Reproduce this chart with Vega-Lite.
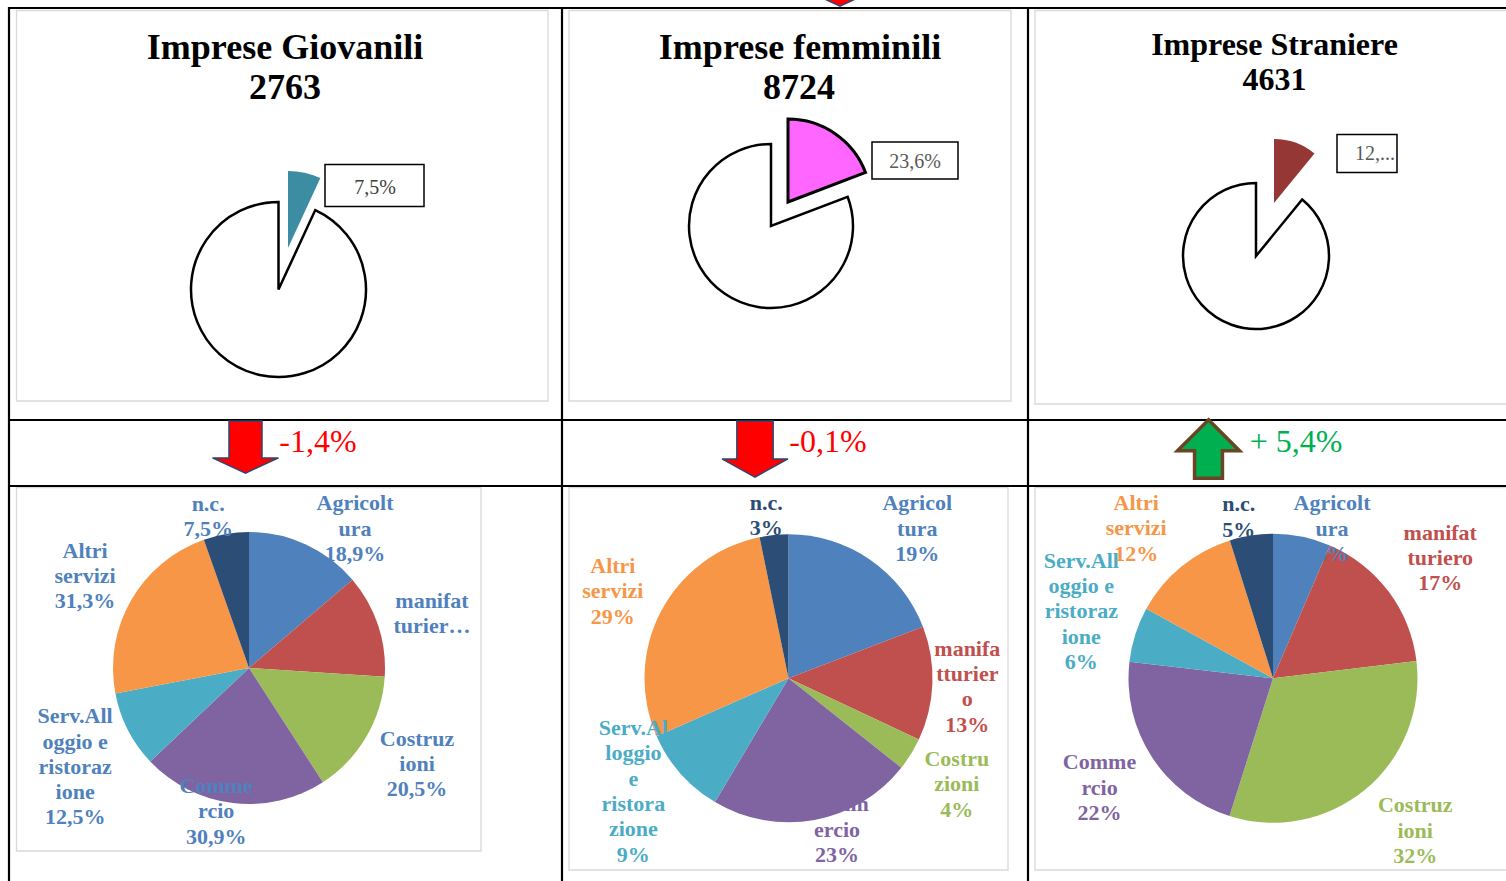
{
"$schema":"https://vega.github.io/schema/vega-lite/v6.json",
"width":1506,"height":881,"autosize":{"type":"none"},"padding":0,"background":"white",
"config":{"view":{"stroke":null}},
"datasets":{
"quote":[
{"gruppo":"Giovanili","titolo":"Imprese Giovanili","imprese":2763,"parte":"quota","ordine":1,"valore":6.9,"etichetta":"7,5%","variazione":"-1,4%"},
{"gruppo":"Giovanili","titolo":"Imprese Giovanili","imprese":2763,"parte":"resto","ordine":2,"valore":93.1,"etichetta":"","variazione":"-1,4%"},
{"gruppo":"Femminili","titolo":"Imprese femminili","imprese":8724,"parte":"quota","ordine":1,"valore":19.2,"etichetta":"23,6%","variazione":"-0,1%"},
{"gruppo":"Femminili","titolo":"Imprese femminili","imprese":8724,"parte":"resto","ordine":2,"valore":80.8,"etichetta":"","variazione":"-0,1%"},
{"gruppo":"Straniere","titolo":"Imprese Straniere","imprese":4631,"parte":"quota","ordine":1,"valore":10.9,"etichetta":"12,...","variazione":"+ 5,4%"},
{"gruppo":"Straniere","titolo":"Imprese Straniere","imprese":4631,"parte":"resto","ordine":2,"valore":89.1,"etichetta":"","variazione":"+ 5,4%"}
],
"settori":[
{"gruppo":"Giovanili","settore":"Agricoltura","ordine":1,"valore":13.75,"etichetta":"Agricolt\nura\n18,9%"},
{"gruppo":"Giovanili","settore":"Manifatturiero","ordine":2,"valore":12.28,"etichetta":"manifat\nturier…"},
{"gruppo":"Giovanili","settore":"Costruzioni","ordine":3,"valore":14.83,"etichetta":"Costruz\nioni\n20,5%"},
{"gruppo":"Giovanili","settore":"Commercio","ordine":4,"valore":22.08,"etichetta":"Comme\nrcio\n30,9%"},
{"gruppo":"Giovanili","settore":"Alloggio e ristorazione","ordine":5,"valore":9.06,"etichetta":"Serv.All\noggio e\nristoraz\nione\n12,5%"},
{"gruppo":"Giovanili","settore":"Altri servizi","ordine":6,"valore":22.61,"etichetta":"Altri\nservizi\n31,3%"},
{"gruppo":"Giovanili","settore":"n.c.","ordine":7,"valore":5.39,"etichetta":"n.c.\n7,5%"},
{"gruppo":"Femminili","settore":"Agricoltura","ordine":1,"valore":19.17,"etichetta":"Agricol\ntura\n19%"},
{"gruppo":"Femminili","settore":"Manifatturiero","ordine":2,"valore":12.81,"etichetta":"manifa\ntturier\no\n13%"},
{"gruppo":"Femminili","settore":"Costruzioni","ordine":3,"valore":3.69,"etichetta":"Costru\nzioni\n4%"},
{"gruppo":"Femminili","settore":"Commercio","ordine":4,"valore":22.86,"etichetta":"Comm\nercio\n23%"},
{"gruppo":"Femminili","settore":"Alloggio e ristorazione","ordine":5,"valore":9.89,"etichetta":"Serv.Al\nloggio\ne\nristora\nzione\n9%"},
{"gruppo":"Femminili","settore":"Altri servizi","ordine":6,"valore":28.36,"etichetta":"Altri\nservizi\n29%"},
{"gruppo":"Femminili","settore":"n.c.","ordine":7,"valore":3.22,"etichetta":"n.c.\n3%"},
{"gruppo":"Straniere","settore":"Agricoltura","ordine":1,"valore":6.44,"etichetta":"Agricolt\nura\n6%"},
{"gruppo":"Straniere","settore":"Manifatturiero","ordine":2,"valore":16.64,"etichetta":"manifat\nturiero\n17%"},
{"gruppo":"Straniere","settore":"Costruzioni","ordine":3,"valore":31.78,"etichetta":"Costruz\nioni\n32%"},
{"gruppo":"Straniere","settore":"Commercio","ordine":4,"valore":21.97,"etichetta":"Comme\nrcio\n22%"},
{"gruppo":"Straniere","settore":"Alloggio e ristorazione","ordine":5,"valore":6.14,"etichetta":"Serv.All\noggio e\nristoraz\nione\n6%"},
{"gruppo":"Straniere","settore":"Altri servizi","ordine":6,"valore":12.19,"etichetta":"Altri\nservizi\n12%"},
{"gruppo":"Straniere","settore":"n.c.","ordine":7,"valore":4.83,"etichetta":"n.c.\n5%"}
]
},
"layer":[
{"data":{"values":[{}]},"mark":{"type":"rect","fill":"white","stroke":"#D9D9D9","strokeWidth":1.3},"encoding":{"x":{"datum":16.5,"type":"quantitative","scale":{"domain":[0,1506],"nice":false,"zero":false},"axis":null},"x2":{"datum":548},"y":{"datum":10.5,"type":"quantitative","scale":{"domain":[0,881],"nice":false,"zero":false,"reverse":true},"axis":null},"y2":{"datum":401}}},
{"data":{"values":[{}]},"mark":{"type":"rect","fill":"white","stroke":"#D9D9D9","strokeWidth":1.3},"encoding":{"x":{"datum":569,"type":"quantitative","scale":{"domain":[0,1506],"nice":false,"zero":false},"axis":null},"x2":{"datum":1011},"y":{"datum":10.5,"type":"quantitative","scale":{"domain":[0,881],"nice":false,"zero":false,"reverse":true},"axis":null},"y2":{"datum":401}}},
{"data":{"values":[{}]},"mark":{"type":"rect","fill":"white","stroke":"#D9D9D9","strokeWidth":1.3},"encoding":{"x":{"datum":1035,"type":"quantitative","scale":{"domain":[0,1506],"nice":false,"zero":false},"axis":null},"x2":{"datum":1520},"y":{"datum":10.5,"type":"quantitative","scale":{"domain":[0,881],"nice":false,"zero":false,"reverse":true},"axis":null},"y2":{"datum":404}}},
{"data":{"values":[{}]},"mark":{"type":"rect","fill":"white","stroke":"#D9D9D9","strokeWidth":1.3},"encoding":{"x":{"datum":16.5,"type":"quantitative","scale":{"domain":[0,1506],"nice":false,"zero":false},"axis":null},"x2":{"datum":481},"y":{"datum":487.5,"type":"quantitative","scale":{"domain":[0,881],"nice":false,"zero":false,"reverse":true},"axis":null},"y2":{"datum":851}}},
{"data":{"values":[{}]},"mark":{"type":"rect","fill":"white","stroke":"#D9D9D9","strokeWidth":1.3},"encoding":{"x":{"datum":569,"type":"quantitative","scale":{"domain":[0,1506],"nice":false,"zero":false},"axis":null},"x2":{"datum":1008},"y":{"datum":487.5,"type":"quantitative","scale":{"domain":[0,881],"nice":false,"zero":false,"reverse":true},"axis":null},"y2":{"datum":870}}},
{"data":{"values":[{}]},"mark":{"type":"rect","fill":"white","stroke":"#D9D9D9","strokeWidth":1.3},"encoding":{"x":{"datum":1035,"type":"quantitative","scale":{"domain":[0,1506],"nice":false,"zero":false},"axis":null},"x2":{"datum":1520},"y":{"datum":487.5,"type":"quantitative","scale":{"domain":[0,881],"nice":false,"zero":false,"reverse":true},"axis":null},"y2":{"datum":870}}},

{"data":{"values":[{}]},"mark":{"type":"rule","stroke":"black","strokeWidth":2.2},"encoding":{"x":{"datum":8,"type":"quantitative","scale":{"domain":[0,1506],"nice":false,"zero":false},"axis":null},"x2":{"datum":1506},"y":{"datum":8,"type":"quantitative","scale":{"domain":[0,881],"nice":false,"zero":false,"reverse":true},"axis":null}}},
{"data":{"values":[{}]},"mark":{"type":"rule","stroke":"black","strokeWidth":2.2},"encoding":{"x":{"datum":8,"type":"quantitative","scale":{"domain":[0,1506],"nice":false,"zero":false},"axis":null},"x2":{"datum":1506},"y":{"datum":420,"type":"quantitative","scale":{"domain":[0,881],"nice":false,"zero":false,"reverse":true},"axis":null}}},
{"data":{"values":[{}]},"mark":{"type":"rule","stroke":"black","strokeWidth":2.2},"encoding":{"x":{"datum":8,"type":"quantitative","scale":{"domain":[0,1506],"nice":false,"zero":false},"axis":null},"x2":{"datum":1506},"y":{"datum":486,"type":"quantitative","scale":{"domain":[0,881],"nice":false,"zero":false,"reverse":true},"axis":null}}},
{"data":{"values":[{}]},"mark":{"type":"rule","stroke":"black","strokeWidth":2.2},"encoding":{"x":{"datum":9,"type":"quantitative","scale":{"domain":[0,1506],"nice":false,"zero":false},"axis":null},"y":{"datum":7,"type":"quantitative","scale":{"domain":[0,881],"nice":false,"zero":false,"reverse":true},"axis":null},"y2":{"datum":881}}},
{"data":{"values":[{}]},"mark":{"type":"rule","stroke":"black","strokeWidth":2.2},"encoding":{"x":{"datum":562,"type":"quantitative","scale":{"domain":[0,1506],"nice":false,"zero":false},"axis":null},"y":{"datum":7,"type":"quantitative","scale":{"domain":[0,881],"nice":false,"zero":false,"reverse":true},"axis":null},"y2":{"datum":881}}},
{"data":{"values":[{}]},"mark":{"type":"rule","stroke":"black","strokeWidth":2.2},"encoding":{"x":{"datum":1028,"type":"quantitative","scale":{"domain":[0,1506],"nice":false,"zero":false},"axis":null},"y":{"datum":7,"type":"quantitative","scale":{"domain":[0,881],"nice":false,"zero":false,"reverse":true},"axis":null},"y2":{"datum":881}}},

{"data":{"values":[{}]},"mark":{"type":"point","shape":"M-0.5,-0.79L0.5,-0.79L0.5,0.33L1,0.33L0,0.79L-1,0.33L-0.5,0.33Z","size":4356,"filled":true,"fill":"#FF0000","stroke":"#2E4670","strokeWidth":1.5,"opacity":1},"encoding":{"x":{"datum":840,"type":"quantitative","scale":{"domain":[0,1506],"nice":false,"zero":false},"axis":null},"y":{"datum":-20,"type":"quantitative","scale":{"domain":[0,881],"nice":false,"zero":false,"reverse":true},"axis":null}}},

{"data":{"name":"quote"},"transform":[{"filter":"datum.gruppo === 'Giovanili'"}],"mark":{"type":"arc","radius":87.5,"fill":"white","stroke":"black","strokeWidth":2.5},"encoding":{"x":{"datum":278.5,"type":"quantitative","scale":{"domain":[0,1506],"nice":false,"zero":false},"axis":null},"y":{"datum":289.5,"type":"quantitative","scale":{"domain":[0,881],"nice":false,"zero":false,"reverse":true},"axis":null},"theta":{"field":"valore","type":"quantitative","stack":"normalize"},"order":{"field":"ordine","type":"quantitative"},"detail":{"field":"parte","type":"nominal"},"opacity":{"condition":{"test":"datum.parte === 'resto'","value":1},"value":0}}},
{"data":{"name":"quote"},"transform":[{"filter":"datum.gruppo === 'Giovanili'"}],"mark":{"type":"arc","radius":77,"fill":"#3C8CA2","strokeWidth":0},"encoding":{"x":{"datum":288,"type":"quantitative","scale":{"domain":[0,1506],"nice":false,"zero":false},"axis":null},"y":{"datum":248,"type":"quantitative","scale":{"domain":[0,881],"nice":false,"zero":false,"reverse":true},"axis":null},"theta":{"field":"valore","type":"quantitative","stack":"normalize"},"order":{"field":"ordine","type":"quantitative"},"detail":{"field":"parte","type":"nominal"},"opacity":{"condition":{"test":"datum.parte === 'quota'","value":1},"value":0}}},
{"data":{"name":"quote"},"transform":[{"filter":"datum.gruppo === 'Femminili'"}],"mark":{"type":"arc","radius":82,"fill":"white","stroke":"black","strokeWidth":2.5},"encoding":{"x":{"datum":771,"type":"quantitative","scale":{"domain":[0,1506],"nice":false,"zero":false},"axis":null},"y":{"datum":226,"type":"quantitative","scale":{"domain":[0,881],"nice":false,"zero":false,"reverse":true},"axis":null},"theta":{"field":"valore","type":"quantitative","stack":"normalize"},"order":{"field":"ordine","type":"quantitative"},"detail":{"field":"parte","type":"nominal"},"opacity":{"condition":{"test":"datum.parte === 'resto'","value":1},"value":0}}},
{"data":{"name":"quote"},"transform":[{"filter":"datum.gruppo === 'Femminili'"}],"mark":{"type":"arc","radius":83,"fill":"#FF66FF","stroke":"black","strokeWidth":3},"encoding":{"x":{"datum":788,"type":"quantitative","scale":{"domain":[0,1506],"nice":false,"zero":false},"axis":null},"y":{"datum":202,"type":"quantitative","scale":{"domain":[0,881],"nice":false,"zero":false,"reverse":true},"axis":null},"theta":{"field":"valore","type":"quantitative","stack":"normalize"},"order":{"field":"ordine","type":"quantitative"},"detail":{"field":"parte","type":"nominal"},"opacity":{"condition":{"test":"datum.parte === 'quota'","value":1},"value":0}}},
{"data":{"name":"quote"},"transform":[{"filter":"datum.gruppo === 'Straniere'"}],"mark":{"type":"arc","radius":73,"fill":"white","stroke":"black","strokeWidth":2.5},"encoding":{"x":{"datum":1256,"type":"quantitative","scale":{"domain":[0,1506],"nice":false,"zero":false},"axis":null},"y":{"datum":256,"type":"quantitative","scale":{"domain":[0,881],"nice":false,"zero":false,"reverse":true},"axis":null},"theta":{"field":"valore","type":"quantitative","stack":"normalize"},"order":{"field":"ordine","type":"quantitative"},"detail":{"field":"parte","type":"nominal"},"opacity":{"condition":{"test":"datum.parte === 'resto'","value":1},"value":0}}},
{"data":{"name":"quote"},"transform":[{"filter":"datum.gruppo === 'Straniere'"}],"mark":{"type":"arc","radius":64,"fill":"#953735","strokeWidth":0},"encoding":{"x":{"datum":1274,"type":"quantitative","scale":{"domain":[0,1506],"nice":false,"zero":false},"axis":null},"y":{"datum":203,"type":"quantitative","scale":{"domain":[0,881],"nice":false,"zero":false,"reverse":true},"axis":null},"theta":{"field":"valore","type":"quantitative","stack":"normalize"},"order":{"field":"ordine","type":"quantitative"},"detail":{"field":"parte","type":"nominal"},"opacity":{"condition":{"test":"datum.parte === 'quota'","value":1},"value":0}}},

{"data":{"values":[{}]},"mark":{"type":"rect","fill":"white","stroke":"black","strokeWidth":1.5},"encoding":{"x":{"datum":325,"type":"quantitative","scale":{"domain":[0,1506],"nice":false,"zero":false},"axis":null},"x2":{"datum":424},"y":{"datum":164.5,"type":"quantitative","scale":{"domain":[0,881],"nice":false,"zero":false,"reverse":true},"axis":null},"y2":{"datum":206.5}}},
{"data":{"values":[{}]},"mark":{"type":"rect","fill":"white","stroke":"black","strokeWidth":1.5},"encoding":{"x":{"datum":872,"type":"quantitative","scale":{"domain":[0,1506],"nice":false,"zero":false},"axis":null},"x2":{"datum":958},"y":{"datum":142,"type":"quantitative","scale":{"domain":[0,881],"nice":false,"zero":false,"reverse":true},"axis":null},"y2":{"datum":179}}},
{"data":{"values":[{}]},"mark":{"type":"rect","fill":"white","stroke":"black","strokeWidth":1.5},"encoding":{"x":{"datum":1337,"type":"quantitative","scale":{"domain":[0,1506],"nice":false,"zero":false},"axis":null},"x2":{"datum":1397},"y":{"datum":134.5,"type":"quantitative","scale":{"domain":[0,881],"nice":false,"zero":false,"reverse":true},"axis":null},"y2":{"datum":172.5}}},

{"data":{"name":"quote"},"transform":[{"filter":"datum.gruppo === 'Giovanili' && datum.parte === 'quota'"}],"mark":{"type":"text","font":"Liberation Serif","fontSize":20,"align":"center","baseline":"middle","fill":"#404040"},"encoding":{"x":{"datum":375,"type":"quantitative","scale":{"domain":[0,1506],"nice":false,"zero":false},"axis":null},"y":{"datum":188,"type":"quantitative","scale":{"domain":[0,881],"nice":false,"zero":false,"reverse":true},"axis":null},"text":{"field":"etichetta"}}},
{"data":{"name":"quote"},"transform":[{"filter":"datum.gruppo === 'Femminili' && datum.parte === 'quota'"}],"mark":{"type":"text","font":"Liberation Serif","fontSize":20,"align":"center","baseline":"middle","fill":"#595959"},"encoding":{"x":{"datum":915,"type":"quantitative","scale":{"domain":[0,1506],"nice":false,"zero":false},"axis":null},"y":{"datum":162,"type":"quantitative","scale":{"domain":[0,881],"nice":false,"zero":false,"reverse":true},"axis":null},"text":{"field":"etichetta"}}},
{"data":{"name":"quote"},"transform":[{"filter":"datum.gruppo === 'Straniere' && datum.parte === 'quota'"}],"mark":{"type":"text","font":"Liberation Serif","fontSize":20,"align":"center","baseline":"middle","fill":"#595959"},"encoding":{"x":{"datum":1375,"type":"quantitative","scale":{"domain":[0,1506],"nice":false,"zero":false},"axis":null},"y":{"datum":154,"type":"quantitative","scale":{"domain":[0,881],"nice":false,"zero":false,"reverse":true},"axis":null},"text":{"field":"etichetta"}}},

{"data":{"name":"quote"},"transform":[{"filter":"datum.gruppo === 'Giovanili' && datum.parte === 'quota'"}],"mark":{"type":"text","font":"Liberation Serif","fontWeight":"bold","fontSize":36,"align":"center","baseline":"alphabetic","fill":"black"},"encoding":{"x":{"datum":285,"type":"quantitative","scale":{"domain":[0,1506],"nice":false,"zero":false},"axis":null},"y":{"datum":59,"type":"quantitative","scale":{"domain":[0,881],"nice":false,"zero":false,"reverse":true},"axis":null},"text":{"field":"titolo"}}},
{"data":{"name":"quote"},"transform":[{"filter":"datum.gruppo === 'Giovanili' && datum.parte === 'quota'"}],"mark":{"type":"text","font":"Liberation Serif","fontWeight":"bold","fontSize":36,"align":"center","baseline":"alphabetic","fill":"black"},"encoding":{"x":{"datum":285,"type":"quantitative","scale":{"domain":[0,1506],"nice":false,"zero":false},"axis":null},"y":{"datum":99,"type":"quantitative","scale":{"domain":[0,881],"nice":false,"zero":false,"reverse":true},"axis":null},"text":{"field":"imprese","type":"quantitative","format":"d"}}},
{"data":{"name":"quote"},"transform":[{"filter":"datum.gruppo === 'Femminili' && datum.parte === 'quota'"}],"mark":{"type":"text","font":"Liberation Serif","fontWeight":"bold","fontSize":36,"align":"center","baseline":"alphabetic","fill":"black"},"encoding":{"x":{"datum":800,"type":"quantitative","scale":{"domain":[0,1506],"nice":false,"zero":false},"axis":null},"y":{"datum":59,"type":"quantitative","scale":{"domain":[0,881],"nice":false,"zero":false,"reverse":true},"axis":null},"text":{"field":"titolo"}}},
{"data":{"name":"quote"},"transform":[{"filter":"datum.gruppo === 'Femminili' && datum.parte === 'quota'"}],"mark":{"type":"text","font":"Liberation Serif","fontWeight":"bold","fontSize":36,"align":"center","baseline":"alphabetic","fill":"black"},"encoding":{"x":{"datum":799,"type":"quantitative","scale":{"domain":[0,1506],"nice":false,"zero":false},"axis":null},"y":{"datum":99,"type":"quantitative","scale":{"domain":[0,881],"nice":false,"zero":false,"reverse":true},"axis":null},"text":{"field":"imprese","type":"quantitative","format":"d"}}},
{"data":{"name":"quote"},"transform":[{"filter":"datum.gruppo === 'Straniere' && datum.parte === 'quota'"}],"mark":{"type":"text","font":"Liberation Serif","fontWeight":"bold","fontSize":32,"align":"center","baseline":"alphabetic","fill":"black"},"encoding":{"x":{"datum":1274.5,"type":"quantitative","scale":{"domain":[0,1506],"nice":false,"zero":false},"axis":null},"y":{"datum":55,"type":"quantitative","scale":{"domain":[0,881],"nice":false,"zero":false,"reverse":true},"axis":null},"text":{"field":"titolo"}}},
{"data":{"name":"quote"},"transform":[{"filter":"datum.gruppo === 'Straniere' && datum.parte === 'quota'"}],"mark":{"type":"text","font":"Liberation Serif","fontWeight":"bold","fontSize":32,"align":"center","baseline":"alphabetic","fill":"black"},"encoding":{"x":{"datum":1274.5,"type":"quantitative","scale":{"domain":[0,1506],"nice":false,"zero":false},"axis":null},"y":{"datum":90,"type":"quantitative","scale":{"domain":[0,881],"nice":false,"zero":false,"reverse":true},"axis":null},"text":{"field":"imprese","type":"quantitative","format":"d"}}},

{"data":{"values":[{}]},"mark":{"type":"point","shape":"M-0.5,-0.79L0.5,-0.79L0.5,0.33L1,0.33L0,0.79L-1,0.33L-0.5,0.33Z","size":4356,"filled":true,"fill":"#FF0000","stroke":"#2E4670","strokeWidth":1.5,"opacity":1},"encoding":{"x":{"datum":245.5,"type":"quantitative","scale":{"domain":[0,1506],"nice":false,"zero":false},"axis":null},"y":{"datum":447,"type":"quantitative","scale":{"domain":[0,881],"nice":false,"zero":false,"reverse":true},"axis":null}}},
{"data":{"values":[{}]},"mark":{"type":"point","shape":"M-0.55,-0.85L0.55,-0.85L0.55,0.3L1,0.3L0,0.85L-1,0.3L-0.55,0.3Z","size":4356,"filled":true,"fill":"#FF0000","stroke":"#2E4670","strokeWidth":1.5,"opacity":1},"encoding":{"x":{"datum":755,"type":"quantitative","scale":{"domain":[0,1506],"nice":false,"zero":false},"axis":null},"y":{"datum":449,"type":"quantitative","scale":{"domain":[0,881],"nice":false,"zero":false,"reverse":true},"axis":null}}},
{"data":{"values":[{}]},"mark":{"type":"point","shape":"M0,-0.94L1,0.06L0.45,0.06L0.45,0.94L-0.45,0.94L-0.45,0.06L-1,0.06Z","size":3844,"filled":true,"fill":"#00B050","stroke":"#6B4423","strokeWidth":3.5,"opacity":1},"encoding":{"x":{"datum":1208.5,"type":"quantitative","scale":{"domain":[0,1506],"nice":false,"zero":false},"axis":null},"y":{"datum":449,"type":"quantitative","scale":{"domain":[0,881],"nice":false,"zero":false,"reverse":true},"axis":null}}},

{"data":{"name":"quote"},"transform":[{"filter":"datum.gruppo === 'Giovanili' && datum.parte === 'quota'"}],"mark":{"type":"text","font":"Liberation Serif","fontSize":32,"align":"center","baseline":"alphabetic","fill":"#FF0000"},"encoding":{"x":{"datum":318,"type":"quantitative","scale":{"domain":[0,1506],"nice":false,"zero":false},"axis":null},"y":{"datum":452,"type":"quantitative","scale":{"domain":[0,881],"nice":false,"zero":false,"reverse":true},"axis":null},"text":{"field":"variazione"}}},
{"data":{"name":"quote"},"transform":[{"filter":"datum.gruppo === 'Femminili' && datum.parte === 'quota'"}],"mark":{"type":"text","font":"Liberation Serif","fontSize":32,"align":"center","baseline":"alphabetic","fill":"#FF0000"},"encoding":{"x":{"datum":828,"type":"quantitative","scale":{"domain":[0,1506],"nice":false,"zero":false},"axis":null},"y":{"datum":452,"type":"quantitative","scale":{"domain":[0,881],"nice":false,"zero":false,"reverse":true},"axis":null},"text":{"field":"variazione"}}},
{"data":{"name":"quote"},"transform":[{"filter":"datum.gruppo === 'Straniere' && datum.parte === 'quota'"}],"mark":{"type":"text","font":"Liberation Serif","fontSize":32,"align":"center","baseline":"alphabetic","fill":"#00B050"},"encoding":{"x":{"datum":1296,"type":"quantitative","scale":{"domain":[0,1506],"nice":false,"zero":false},"axis":null},"y":{"datum":452,"type":"quantitative","scale":{"domain":[0,881],"nice":false,"zero":false,"reverse":true},"axis":null},"text":{"field":"variazione"}}},

{"data":{"name":"settori"},"transform":[{"filter":"datum.gruppo === 'Giovanili'"}],"mark":{"type":"arc","radius":136},"encoding":{"x":{"datum":249,"type":"quantitative","scale":{"domain":[0,1506],"nice":false,"zero":false},"axis":null},"y":{"datum":668,"type":"quantitative","scale":{"domain":[0,881],"nice":false,"zero":false,"reverse":true},"axis":null},"theta":{"field":"valore","type":"quantitative","stack":"normalize"},"order":{"field":"ordine","type":"quantitative"},"color":{"field":"settore","type":"nominal","scale":{"domain":["Agricoltura","Manifatturiero","Costruzioni","Commercio","Alloggio e ristorazione","Altri servizi","n.c."],"range":["#4F81BD","#C0504D","#9BBB59","#8064A2","#4BACC6","#F79646","#2C4D75"]},"legend":null}}},
{"data":{"name":"settori"},"transform":[{"filter":"datum.gruppo === 'Femminili'"}],"mark":{"type":"arc","radius":144},"encoding":{"x":{"datum":788.5,"type":"quantitative","scale":{"domain":[0,1506],"nice":false,"zero":false},"axis":null},"y":{"datum":678.3,"type":"quantitative","scale":{"domain":[0,881],"nice":false,"zero":false,"reverse":true},"axis":null},"theta":{"field":"valore","type":"quantitative","stack":"normalize"},"order":{"field":"ordine","type":"quantitative"},"color":{"field":"settore","type":"nominal","scale":{"domain":["Agricoltura","Manifatturiero","Costruzioni","Commercio","Alloggio e ristorazione","Altri servizi","n.c."],"range":["#4F81BD","#C0504D","#9BBB59","#8064A2","#4BACC6","#F79646","#2C4D75"]},"legend":null}}},
{"data":{"name":"settori"},"transform":[{"filter":"datum.gruppo === 'Straniere'"}],"mark":{"type":"arc","radius":144.5},"encoding":{"x":{"datum":1273,"type":"quantitative","scale":{"domain":[0,1506],"nice":false,"zero":false},"axis":null},"y":{"datum":678.3,"type":"quantitative","scale":{"domain":[0,881],"nice":false,"zero":false,"reverse":true},"axis":null},"theta":{"field":"valore","type":"quantitative","stack":"normalize"},"order":{"field":"ordine","type":"quantitative"},"color":{"field":"settore","type":"nominal","scale":{"domain":["Agricoltura","Manifatturiero","Costruzioni","Commercio","Alloggio e ristorazione","Altri servizi","n.c."],"range":["#4F81BD","#C0504D","#9BBB59","#8064A2","#4BACC6","#F79646","#2C4D75"]},"legend":null}}},

{"data":{"name":"settori"},"transform":[{"filter":"datum.gruppo === 'Giovanili'"}],"mark":{"type":"text","radius":175,"thetaOffset":0.219,"dy":-25.3,"font":"Liberation Serif","fontWeight":"bold","fontSize":22,"lineHeight":25.3,"lineBreak":"\n","align":"center","baseline":"middle","fill":"#4F81BD"},"encoding":{"x":{"datum":249,"type":"quantitative","scale":{"domain":[0,1506],"nice":false,"zero":false},"axis":null},"y":{"datum":668,"type":"quantitative","scale":{"domain":[0,881],"nice":false,"zero":false,"reverse":true},"axis":null},"theta":{"field":"valore","type":"quantitative","stack":"normalize"},"order":{"field":"ordine","type":"quantitative"},"detail":{"field":"settore","type":"nominal"},"text":{"field":"etichetta"},"opacity":{"condition":{"test":"datum.settore === 'Agricoltura'","value":1},"value":0}}},
{"data":{"name":"settori"},"transform":[{"filter":"datum.gruppo === 'Giovanili'"}],"mark":{"type":"text","radius":191,"thetaOffset":0.03,"dy":-12.65,"font":"Liberation Serif","fontWeight":"bold","fontSize":22,"lineHeight":25.3,"lineBreak":"\n","align":"center","baseline":"middle","fill":"#4F81BD"},"encoding":{"x":{"datum":249,"type":"quantitative","scale":{"domain":[0,1506],"nice":false,"zero":false},"axis":null},"y":{"datum":668,"type":"quantitative","scale":{"domain":[0,881],"nice":false,"zero":false,"reverse":true},"axis":null},"theta":{"field":"valore","type":"quantitative","stack":"normalize"},"order":{"field":"ordine","type":"quantitative"},"detail":{"field":"settore","type":"nominal"},"text":{"field":"etichetta"},"opacity":{"condition":{"test":"datum.settore === 'Manifatturiero'","value":1},"value":0}}},
{"data":{"name":"settori"},"transform":[{"filter":"datum.gruppo === 'Giovanili'"}],"mark":{"type":"text","radius":193.5,"thetaOffset":-0.012,"dy":-25.3,"font":"Liberation Serif","fontWeight":"bold","fontSize":22,"lineHeight":25.3,"lineBreak":"\n","align":"center","baseline":"middle","fill":"#4F81BD"},"encoding":{"x":{"datum":249,"type":"quantitative","scale":{"domain":[0,1506],"nice":false,"zero":false},"axis":null},"y":{"datum":668,"type":"quantitative","scale":{"domain":[0,881],"nice":false,"zero":false,"reverse":true},"axis":null},"theta":{"field":"valore","type":"quantitative","stack":"normalize"},"order":{"field":"ordine","type":"quantitative"},"detail":{"field":"settore","type":"nominal"},"text":{"field":"etichetta"},"opacity":{"condition":{"test":"datum.settore === 'Costruzioni'","value":1},"value":0}}},
{"data":{"name":"settori"},"transform":[{"filter":"datum.gruppo === 'Giovanili'"}],"mark":{"type":"text","radius":147,"thetaOffset":0.106,"dy":-25.3,"font":"Liberation Serif","fontWeight":"bold","fontSize":22,"lineHeight":25.3,"lineBreak":"\n","align":"center","baseline":"middle","fill":"#4F81BD"},"encoding":{"x":{"datum":249,"type":"quantitative","scale":{"domain":[0,1506],"nice":false,"zero":false},"axis":null},"y":{"datum":668,"type":"quantitative","scale":{"domain":[0,881],"nice":false,"zero":false,"reverse":true},"axis":null},"theta":{"field":"valore","type":"quantitative","stack":"normalize"},"order":{"field":"ordine","type":"quantitative"},"detail":{"field":"settore","type":"nominal"},"text":{"field":"etichetta"},"opacity":{"condition":{"test":"datum.settore === 'Commercio'","value":1},"value":0}}},
{"data":{"name":"settori"},"transform":[{"filter":"datum.gruppo === 'Giovanili'"}],"mark":{"type":"text","radius":200,"thetaOffset":-0.044,"dy":-50.6,"font":"Liberation Serif","fontWeight":"bold","fontSize":22,"lineHeight":25.3,"lineBreak":"\n","align":"center","baseline":"middle","fill":"#4F81BD"},"encoding":{"x":{"datum":249,"type":"quantitative","scale":{"domain":[0,1506],"nice":false,"zero":false},"axis":null},"y":{"datum":668,"type":"quantitative","scale":{"domain":[0,881],"nice":false,"zero":false,"reverse":true},"axis":null},"theta":{"field":"valore","type":"quantitative","stack":"normalize"},"order":{"field":"ordine","type":"quantitative"},"detail":{"field":"settore","type":"nominal"},"text":{"field":"etichetta"},"opacity":{"condition":{"test":"datum.settore === 'Alloggio e ristorazione'","value":1},"value":0}}},
{"data":{"name":"settori"},"transform":[{"filter":"datum.gruppo === 'Giovanili'"}],"mark":{"type":"text","radius":188,"thetaOffset":-0.01,"dy":-25.3,"font":"Liberation Serif","fontWeight":"bold","fontSize":22,"lineHeight":25.3,"lineBreak":"\n","align":"center","baseline":"middle","fill":"#4F81BD"},"encoding":{"x":{"datum":249,"type":"quantitative","scale":{"domain":[0,1506],"nice":false,"zero":false},"axis":null},"y":{"datum":668,"type":"quantitative","scale":{"domain":[0,881],"nice":false,"zero":false,"reverse":true},"axis":null},"theta":{"field":"valore","type":"quantitative","stack":"normalize"},"order":{"field":"ordine","type":"quantitative"},"detail":{"field":"settore","type":"nominal"},"text":{"field":"etichetta"},"opacity":{"condition":{"test":"datum.settore === 'Altri servizi'","value":1},"value":0}}},
{"data":{"name":"settori"},"transform":[{"filter":"datum.gruppo === 'Giovanili'"}],"mark":{"type":"text","radius":157,"thetaOffset":-0.094,"dy":-12.65,"font":"Liberation Serif","fontWeight":"bold","fontSize":22,"lineHeight":25.3,"lineBreak":"\n","align":"center","baseline":"middle","fill":"#4F81BD"},"encoding":{"x":{"datum":249,"type":"quantitative","scale":{"domain":[0,1506],"nice":false,"zero":false},"axis":null},"y":{"datum":668,"type":"quantitative","scale":{"domain":[0,881],"nice":false,"zero":false,"reverse":true},"axis":null},"theta":{"field":"valore","type":"quantitative","stack":"normalize"},"order":{"field":"ordine","type":"quantitative"},"detail":{"field":"settore","type":"nominal"},"text":{"field":"etichetta"},"opacity":{"condition":{"test":"datum.settore === 'n.c.'","value":1},"value":0}}},

{"data":{"name":"settori"},"transform":[{"filter":"datum.gruppo === 'Femminili'"}],"mark":{"type":"text","radius":197.5,"thetaOffset":0.108,"dy":-25.3,"font":"Liberation Serif","fontWeight":"bold","fontSize":22,"lineHeight":25.3,"lineBreak":"\n","align":"center","baseline":"middle"},"encoding":{"x":{"datum":788.5,"type":"quantitative","scale":{"domain":[0,1506],"nice":false,"zero":false},"axis":null},"y":{"datum":678.3,"type":"quantitative","scale":{"domain":[0,881],"nice":false,"zero":false,"reverse":true},"axis":null},"theta":{"field":"valore","type":"quantitative","stack":"normalize"},"order":{"field":"ordine","type":"quantitative"},"color":{"field":"settore","type":"nominal","scale":{"domain":["Agricoltura","Manifatturiero","Costruzioni","Commercio","Alloggio e ristorazione","Altri servizi","n.c."],"range":["#4F81BD","#C0504D","#9BBB59","#8064A2","#4BACC6","#F79646","#2C4D75"]},"legend":null},"text":{"field":"etichetta"},"opacity":{"condition":{"test":"datum.settore === 'Agricoltura'","value":1},"value":0}}},
{"data":{"name":"settori"},"transform":[{"filter":"datum.gruppo === 'Femminili'"}],"mark":{"type":"text","radius":179,"thetaOffset":0.011,"dy":-37.95,"font":"Liberation Serif","fontWeight":"bold","fontSize":22,"lineHeight":25.3,"lineBreak":"\n","align":"center","baseline":"middle"},"encoding":{"x":{"datum":788.5,"type":"quantitative","scale":{"domain":[0,1506],"nice":false,"zero":false},"axis":null},"y":{"datum":678.3,"type":"quantitative","scale":{"domain":[0,881],"nice":false,"zero":false,"reverse":true},"axis":null},"theta":{"field":"valore","type":"quantitative","stack":"normalize"},"order":{"field":"ordine","type":"quantitative"},"color":{"field":"settore","type":"nominal","scale":{"domain":["Agricoltura","Manifatturiero","Costruzioni","Commercio","Alloggio e ristorazione","Altri servizi","n.c."],"range":["#4F81BD","#C0504D","#9BBB59","#8064A2","#4BACC6","#F79646","#2C4D75"]},"legend":null},"text":{"field":"etichetta"},"opacity":{"condition":{"test":"datum.settore === 'Manifatturiero'","value":1},"value":0}}},
{"data":{"name":"settori"},"transform":[{"filter":"datum.gruppo === 'Femminili'"}],"mark":{"type":"text","radius":199,"thetaOffset":0.008,"dy":-25.3,"font":"Liberation Serif","fontWeight":"bold","fontSize":22,"lineHeight":25.3,"lineBreak":"\n","align":"center","baseline":"middle"},"encoding":{"x":{"datum":788.5,"type":"quantitative","scale":{"domain":[0,1506],"nice":false,"zero":false},"axis":null},"y":{"datum":678.3,"type":"quantitative","scale":{"domain":[0,881],"nice":false,"zero":false,"reverse":true},"axis":null},"theta":{"field":"valore","type":"quantitative","stack":"normalize"},"order":{"field":"ordine","type":"quantitative"},"color":{"field":"settore","type":"nominal","scale":{"domain":["Agricoltura","Manifatturiero","Costruzioni","Commercio","Alloggio e ristorazione","Altri servizi","n.c."],"range":["#4F81BD","#C0504D","#9BBB59","#8064A2","#4BACC6","#F79646","#2C4D75"]},"legend":null},"text":{"field":"etichetta"},"opacity":{"condition":{"test":"datum.settore === 'Costruzioni'","value":1},"value":0}}},
{"data":{"name":"settori"},"transform":[{"filter":"datum.gruppo === 'Femminili'"}],"mark":{"type":"text","radius":159,"thetaOffset":-0.128,"dy":-25.3,"font":"Liberation Serif","fontWeight":"bold","fontSize":22,"lineHeight":25.3,"lineBreak":"\n","align":"center","baseline":"middle"},"encoding":{"x":{"datum":788.5,"type":"quantitative","scale":{"domain":[0,1506],"nice":false,"zero":false},"axis":null},"y":{"datum":678.3,"type":"quantitative","scale":{"domain":[0,881],"nice":false,"zero":false,"reverse":true},"axis":null},"theta":{"field":"valore","type":"quantitative","stack":"normalize"},"order":{"field":"ordine","type":"quantitative"},"color":{"field":"settore","type":"nominal","scale":{"domain":["Agricoltura","Manifatturiero","Costruzioni","Commercio","Alloggio e ristorazione","Altri servizi","n.c."],"range":["#4F81BD","#C0504D","#9BBB59","#8064A2","#4BACC6","#F79646","#2C4D75"]},"legend":null},"text":{"field":"etichetta"},"opacity":{"condition":{"test":"datum.settore === 'Commercio'","value":1},"value":0}}},
{"data":{"name":"settori"},"transform":[{"filter":"datum.gruppo === 'Femminili'"}],"mark":{"type":"text","radius":192,"thetaOffset":0.094,"dy":-63.25,"font":"Liberation Serif","fontWeight":"bold","fontSize":22,"lineHeight":25.3,"lineBreak":"\n","align":"center","baseline":"middle"},"encoding":{"x":{"datum":788.5,"type":"quantitative","scale":{"domain":[0,1506],"nice":false,"zero":false},"axis":null},"y":{"datum":678.3,"type":"quantitative","scale":{"domain":[0,881],"nice":false,"zero":false,"reverse":true},"axis":null},"theta":{"field":"valore","type":"quantitative","stack":"normalize"},"order":{"field":"ordine","type":"quantitative"},"color":{"field":"settore","type":"nominal","scale":{"domain":["Agricoltura","Manifatturiero","Costruzioni","Commercio","Alloggio e ristorazione","Altri servizi","n.c."],"range":["#4F81BD","#C0504D","#9BBB59","#8064A2","#4BACC6","#F79646","#2C4D75"]},"legend":null},"text":{"field":"etichetta"},"opacity":{"condition":{"test":"datum.settore === 'Alloggio e ristorazione'","value":1},"value":0}}},
{"data":{"name":"settori"},"transform":[{"filter":"datum.gruppo === 'Femminili'"}],"mark":{"type":"text","radius":196,"thetaOffset":-0.018,"dy":-25.3,"font":"Liberation Serif","fontWeight":"bold","fontSize":22,"lineHeight":25.3,"lineBreak":"\n","align":"center","baseline":"middle"},"encoding":{"x":{"datum":788.5,"type":"quantitative","scale":{"domain":[0,1506],"nice":false,"zero":false},"axis":null},"y":{"datum":678.3,"type":"quantitative","scale":{"domain":[0,881],"nice":false,"zero":false,"reverse":true},"axis":null},"theta":{"field":"valore","type":"quantitative","stack":"normalize"},"order":{"field":"ordine","type":"quantitative"},"color":{"field":"settore","type":"nominal","scale":{"domain":["Agricoltura","Manifatturiero","Costruzioni","Commercio","Alloggio e ristorazione","Altri servizi","n.c."],"range":["#4F81BD","#C0504D","#9BBB59","#8064A2","#4BACC6","#F79646","#2C4D75"]},"legend":null},"text":{"field":"etichetta"},"opacity":{"condition":{"test":"datum.settore === 'Altri servizi'","value":1},"value":0}}},
{"data":{"name":"settori"},"transform":[{"filter":"datum.gruppo === 'Femminili'"}],"mark":{"type":"text","radius":164,"thetaOffset":-0.035,"dy":-12.65,"font":"Liberation Serif","fontWeight":"bold","fontSize":22,"lineHeight":25.3,"lineBreak":"\n","align":"center","baseline":"middle"},"encoding":{"x":{"datum":788.5,"type":"quantitative","scale":{"domain":[0,1506],"nice":false,"zero":false},"axis":null},"y":{"datum":678.3,"type":"quantitative","scale":{"domain":[0,881],"nice":false,"zero":false,"reverse":true},"axis":null},"theta":{"field":"valore","type":"quantitative","stack":"normalize"},"order":{"field":"ordine","type":"quantitative"},"color":{"field":"settore","type":"nominal","scale":{"domain":["Agricoltura","Manifatturiero","Costruzioni","Commercio","Alloggio e ristorazione","Altri servizi","n.c."],"range":["#4F81BD","#C0504D","#9BBB59","#8064A2","#4BACC6","#F79646","#2C4D75"]},"legend":null},"text":{"field":"etichetta"},"opacity":{"condition":{"test":"datum.settore === 'n.c.'","value":1},"value":0}}},

{"data":{"name":"settori"},"transform":[{"filter":"datum.gruppo === 'Straniere'"}],"mark":{"type":"text","radius":161,"thetaOffset":0.173,"dy":-25.3,"font":"Liberation Serif","fontWeight":"bold","fontSize":22,"lineHeight":25.3,"lineBreak":"\n","align":"center","baseline":"middle"},"encoding":{"x":{"datum":1273,"type":"quantitative","scale":{"domain":[0,1506],"nice":false,"zero":false},"axis":null},"y":{"datum":678.3,"type":"quantitative","scale":{"domain":[0,881],"nice":false,"zero":false,"reverse":true},"axis":null},"theta":{"field":"valore","type":"quantitative","stack":"normalize"},"order":{"field":"ordine","type":"quantitative"},"color":{"field":"settore","type":"nominal","scale":{"domain":["Agricoltura","Manifatturiero","Costruzioni","Commercio","Alloggio e ristorazione","Altri servizi","n.c."],"range":["#4F81BD","#C0504D","#9BBB59","#8064A2","#4BACC6","#F79646","#2C4D75"]},"legend":null},"text":{"field":"etichetta"},"opacity":{"condition":{"test":"datum.settore === 'Agricoltura'","value":1},"value":0}}},
{"data":{"name":"settori"},"transform":[{"filter":"datum.gruppo === 'Straniere'"}],"mark":{"type":"text","radius":206,"thetaOffset":0.02,"dy":-25.3,"font":"Liberation Serif","fontWeight":"bold","fontSize":22,"lineHeight":25.3,"lineBreak":"\n","align":"center","baseline":"middle"},"encoding":{"x":{"datum":1273,"type":"quantitative","scale":{"domain":[0,1506],"nice":false,"zero":false},"axis":null},"y":{"datum":678.3,"type":"quantitative","scale":{"domain":[0,881],"nice":false,"zero":false,"reverse":true},"axis":null},"theta":{"field":"valore","type":"quantitative","stack":"normalize"},"order":{"field":"ordine","type":"quantitative"},"color":{"field":"settore","type":"nominal","scale":{"domain":["Agricoltura","Manifatturiero","Costruzioni","Commercio","Alloggio e ristorazione","Altri servizi","n.c."],"range":["#4F81BD","#C0504D","#9BBB59","#8064A2","#4BACC6","#F79646","#2C4D75"]},"legend":null},"text":{"field":"etichetta"},"opacity":{"condition":{"test":"datum.settore === 'Manifatturiero'","value":1},"value":0}}},
{"data":{"name":"settori"},"transform":[{"filter":"datum.gruppo === 'Straniere'"}],"mark":{"type":"text","radius":208.5,"thetaOffset":-0.058,"dy":-25.3,"font":"Liberation Serif","fontWeight":"bold","fontSize":22,"lineHeight":25.3,"lineBreak":"\n","align":"center","baseline":"middle"},"encoding":{"x":{"datum":1273,"type":"quantitative","scale":{"domain":[0,1506],"nice":false,"zero":false},"axis":null},"y":{"datum":678.3,"type":"quantitative","scale":{"domain":[0,881],"nice":false,"zero":false,"reverse":true},"axis":null},"theta":{"field":"valore","type":"quantitative","stack":"normalize"},"order":{"field":"ordine","type":"quantitative"},"color":{"field":"settore","type":"nominal","scale":{"domain":["Agricoltura","Manifatturiero","Costruzioni","Commercio","Alloggio e ristorazione","Altri servizi","n.c."],"range":["#4F81BD","#C0504D","#9BBB59","#8064A2","#4BACC6","#F79646","#2C4D75"]},"legend":null},"text":{"field":"etichetta"},"opacity":{"condition":{"test":"datum.settore === 'Costruzioni'","value":1},"value":0}}},
{"data":{"name":"settori"},"transform":[{"filter":"datum.gruppo === 'Straniere'"}],"mark":{"type":"text","radius":205,"thetaOffset":0.013,"dy":-25.3,"font":"Liberation Serif","fontWeight":"bold","fontSize":22,"lineHeight":25.3,"lineBreak":"\n","align":"center","baseline":"middle"},"encoding":{"x":{"datum":1273,"type":"quantitative","scale":{"domain":[0,1506],"nice":false,"zero":false},"axis":null},"y":{"datum":678.3,"type":"quantitative","scale":{"domain":[0,881],"nice":false,"zero":false,"reverse":true},"axis":null},"theta":{"field":"valore","type":"quantitative","stack":"normalize"},"order":{"field":"ordine","type":"quantitative"},"color":{"field":"settore","type":"nominal","scale":{"domain":["Agricoltura","Manifatturiero","Costruzioni","Commercio","Alloggio e ristorazione","Altri servizi","n.c."],"range":["#4F81BD","#C0504D","#9BBB59","#8064A2","#4BACC6","#F79646","#2C4D75"]},"legend":null},"text":{"field":"etichetta"},"opacity":{"condition":{"test":"datum.settore === 'Commercio'","value":1},"value":0}}},
{"data":{"name":"settori"},"transform":[{"filter":"datum.gruppo === 'Straniere'"}],"mark":{"type":"text","radius":203,"thetaOffset":0.027,"dy":-50.6,"font":"Liberation Serif","fontWeight":"bold","fontSize":22,"lineHeight":25.3,"lineBreak":"\n","align":"center","baseline":"middle"},"encoding":{"x":{"datum":1273,"type":"quantitative","scale":{"domain":[0,1506],"nice":false,"zero":false},"axis":null},"y":{"datum":678.3,"type":"quantitative","scale":{"domain":[0,881],"nice":false,"zero":false,"reverse":true},"axis":null},"theta":{"field":"valore","type":"quantitative","stack":"normalize"},"order":{"field":"ordine","type":"quantitative"},"color":{"field":"settore","type":"nominal","scale":{"domain":["Agricoltura","Manifatturiero","Costruzioni","Commercio","Alloggio e ristorazione","Altri servizi","n.c."],"range":["#4F81BD","#C0504D","#9BBB59","#8064A2","#4BACC6","#F79646","#2C4D75"]},"legend":null},"text":{"field":"etichetta"},"opacity":{"condition":{"test":"datum.settore === 'Alloggio e ristorazione'","value":1},"value":0}}},
{"data":{"name":"settori"},"transform":[{"filter":"datum.gruppo === 'Straniere'"}],"mark":{"type":"text","radius":203,"thetaOffset":-0.053,"dy":-25.3,"font":"Liberation Serif","fontWeight":"bold","fontSize":22,"lineHeight":25.3,"lineBreak":"\n","align":"center","baseline":"middle"},"encoding":{"x":{"datum":1273,"type":"quantitative","scale":{"domain":[0,1506],"nice":false,"zero":false},"axis":null},"y":{"datum":678.3,"type":"quantitative","scale":{"domain":[0,881],"nice":false,"zero":false,"reverse":true},"axis":null},"theta":{"field":"valore","type":"quantitative","stack":"normalize"},"order":{"field":"ordine","type":"quantitative"},"color":{"field":"settore","type":"nominal","scale":{"domain":["Agricoltura","Manifatturiero","Costruzioni","Commercio","Alloggio e ristorazione","Altri servizi","n.c."],"range":["#4F81BD","#C0504D","#9BBB59","#8064A2","#4BACC6","#F79646","#2C4D75"]},"legend":null},"text":{"field":"etichetta"},"opacity":{"condition":{"test":"datum.settore === 'Altri servizi'","value":1},"value":0}}},
{"data":{"name":"settori"},"transform":[{"filter":"datum.gruppo === 'Straniere'"}],"mark":{"type":"text","radius":165,"thetaOffset":-0.058,"dy":-12.65,"font":"Liberation Serif","fontWeight":"bold","fontSize":22,"lineHeight":25.3,"lineBreak":"\n","align":"center","baseline":"middle"},"encoding":{"x":{"datum":1273,"type":"quantitative","scale":{"domain":[0,1506],"nice":false,"zero":false},"axis":null},"y":{"datum":678.3,"type":"quantitative","scale":{"domain":[0,881],"nice":false,"zero":false,"reverse":true},"axis":null},"theta":{"field":"valore","type":"quantitative","stack":"normalize"},"order":{"field":"ordine","type":"quantitative"},"color":{"field":"settore","type":"nominal","scale":{"domain":["Agricoltura","Manifatturiero","Costruzioni","Commercio","Alloggio e ristorazione","Altri servizi","n.c."],"range":["#4F81BD","#C0504D","#9BBB59","#8064A2","#4BACC6","#F79646","#2C4D75"]},"legend":null},"text":{"field":"etichetta"},"opacity":{"condition":{"test":"datum.settore === 'n.c.'","value":1},"value":0}}}
]
}
